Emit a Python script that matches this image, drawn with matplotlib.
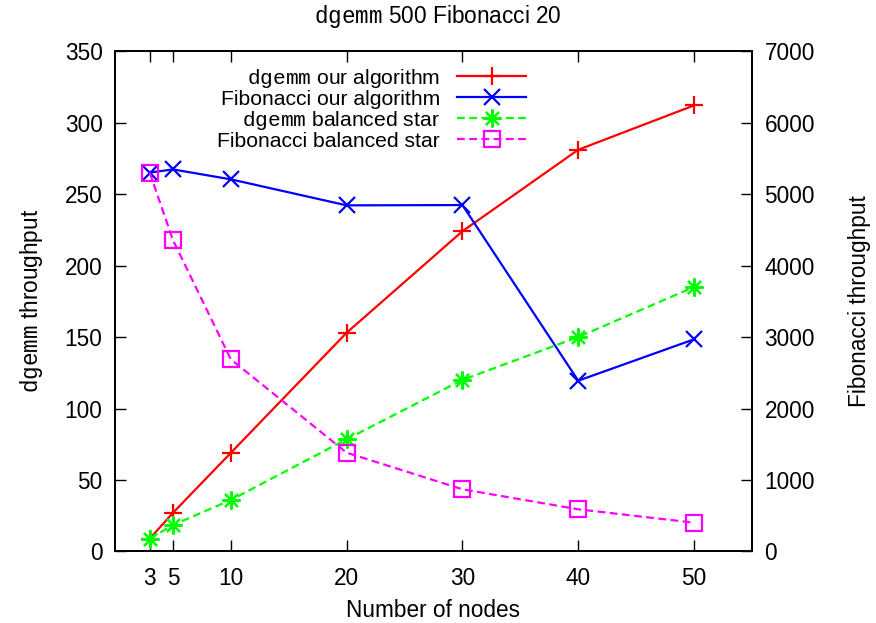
import matplotlib
matplotlib.use("Agg")
import matplotlib.pyplot as plt

plt.rcParams['font.family'] = ['Liberation Sans', 'DejaVu Sans']
plt.rcParams['mathtext.fontset'] = 'custom'
plt.rcParams['mathtext.tt'] = 'Liberation Mono'
plt.rcParams['mathtext.rm'] = 'Liberation Sans'

# number of nodes
nodes = [3, 5, 10, 20, 30, 40, 50]
# left axis: dgemm throughput
dgemm_ours = [9, 27, 69, 153, 224, 281, 312]
dgemm_star = [9, 18.5, 36, 78.5, 120, 150, 185]
# right axis: Fibonacci throughput
fib_ours = [5300, 5345, 5206, 4842, 4846, 2389, 2968]
fib_star = [5300, 4357, 2688, 1382, 870, 590, 403]

x_ticks = [3, 5, 10, 20, 30, 40, 50]
left_ticks = [0, 50, 100, 150, 200, 250, 300, 350]
right_ticks = [0, 1000, 2000, 3000, 4000, 5000, 6000, 7000]

fs = 16.3
fig = plt.figure(figsize=(8.76, 6.23), dpi=100)
ax = fig.add_axes([0.1313, 0.1148, 0.8584 - 0.1313, 0.918 - 0.1148])
ax2 = ax.twinx()

star = (8, 2, 0)
l1, = ax.plot(nodes, dgemm_ours, color='#ff0000', lw=1.6, marker='+', ms=13, mew=1.6,
              label=r'$\mathtt{dgemm}$ our algorithm')
l3, = ax.plot(nodes, dgemm_star, color='#00ff00', lw=1.6, ls=(0, (3.5, 2)), marker=star,
              ms=13, mew=1.6, label=r'$\mathtt{dgemm}$ balanced star')
l2, = ax2.plot(nodes, fib_ours, color='#0000ff', lw=1.6, marker='x', ms=12, mew=1.6,
               label='Fibonacci our algorithm')
l4, = ax2.plot(nodes, fib_star, color='#ff00ff', lw=1.6, ls=(0, (3.5, 2)), marker='s',
               ms=12, mew=1.6, mfc='none', label='Fibonacci balanced star')

ax.set_xlim(0, 55)
ax.set_ylim(0, 350)
ax2.set_ylim(0, 7000)
ax.set_xticks(x_ticks)
ax.set_yticks(left_ticks)
ax2.set_yticks(right_ticks)

ax.tick_params(axis='x', direction='in', top=True, length=8, width=1, pad=11, labelsize=fs)
ax.tick_params(axis='y', direction='in', right=False, length=8, width=1, pad=9, labelsize=fs)
ax2.tick_params(axis='y', direction='in', left=False, length=8, width=1, pad=9, labelsize=fs)
for a in (ax, ax2):
    for s in a.spines.values():
        s.set_linewidth(1.3)

ax.set_xlabel('Number of nodes', fontsize=fs, labelpad=7)
ax.set_ylabel(r'$\mathtt{dgemm}$ throughput', fontsize=fs, labelpad=14)
ax2.set_ylabel('Fibonacci throughput', fontsize=fs, labelpad=24)
fig.text(0.5, 1 - 17 / 623, r'$\mathtt{dgemm}$ 500 Fibonacci 20', ha='center', va='center',
         fontsize=fs)

ax2.legend(handles=[l1, l2, l3, l4], loc='upper right', bbox_to_anchor=(537 / 876, 1 - 56 / 623),
           bbox_transform=fig.transFigure, frameon=False, markerfirst=False, fontsize=15.2,
           borderpad=0, labelspacing=0.0, handlelength=3.3, handletextpad=0.8)

fig.savefig('out.png', dpi=100)
